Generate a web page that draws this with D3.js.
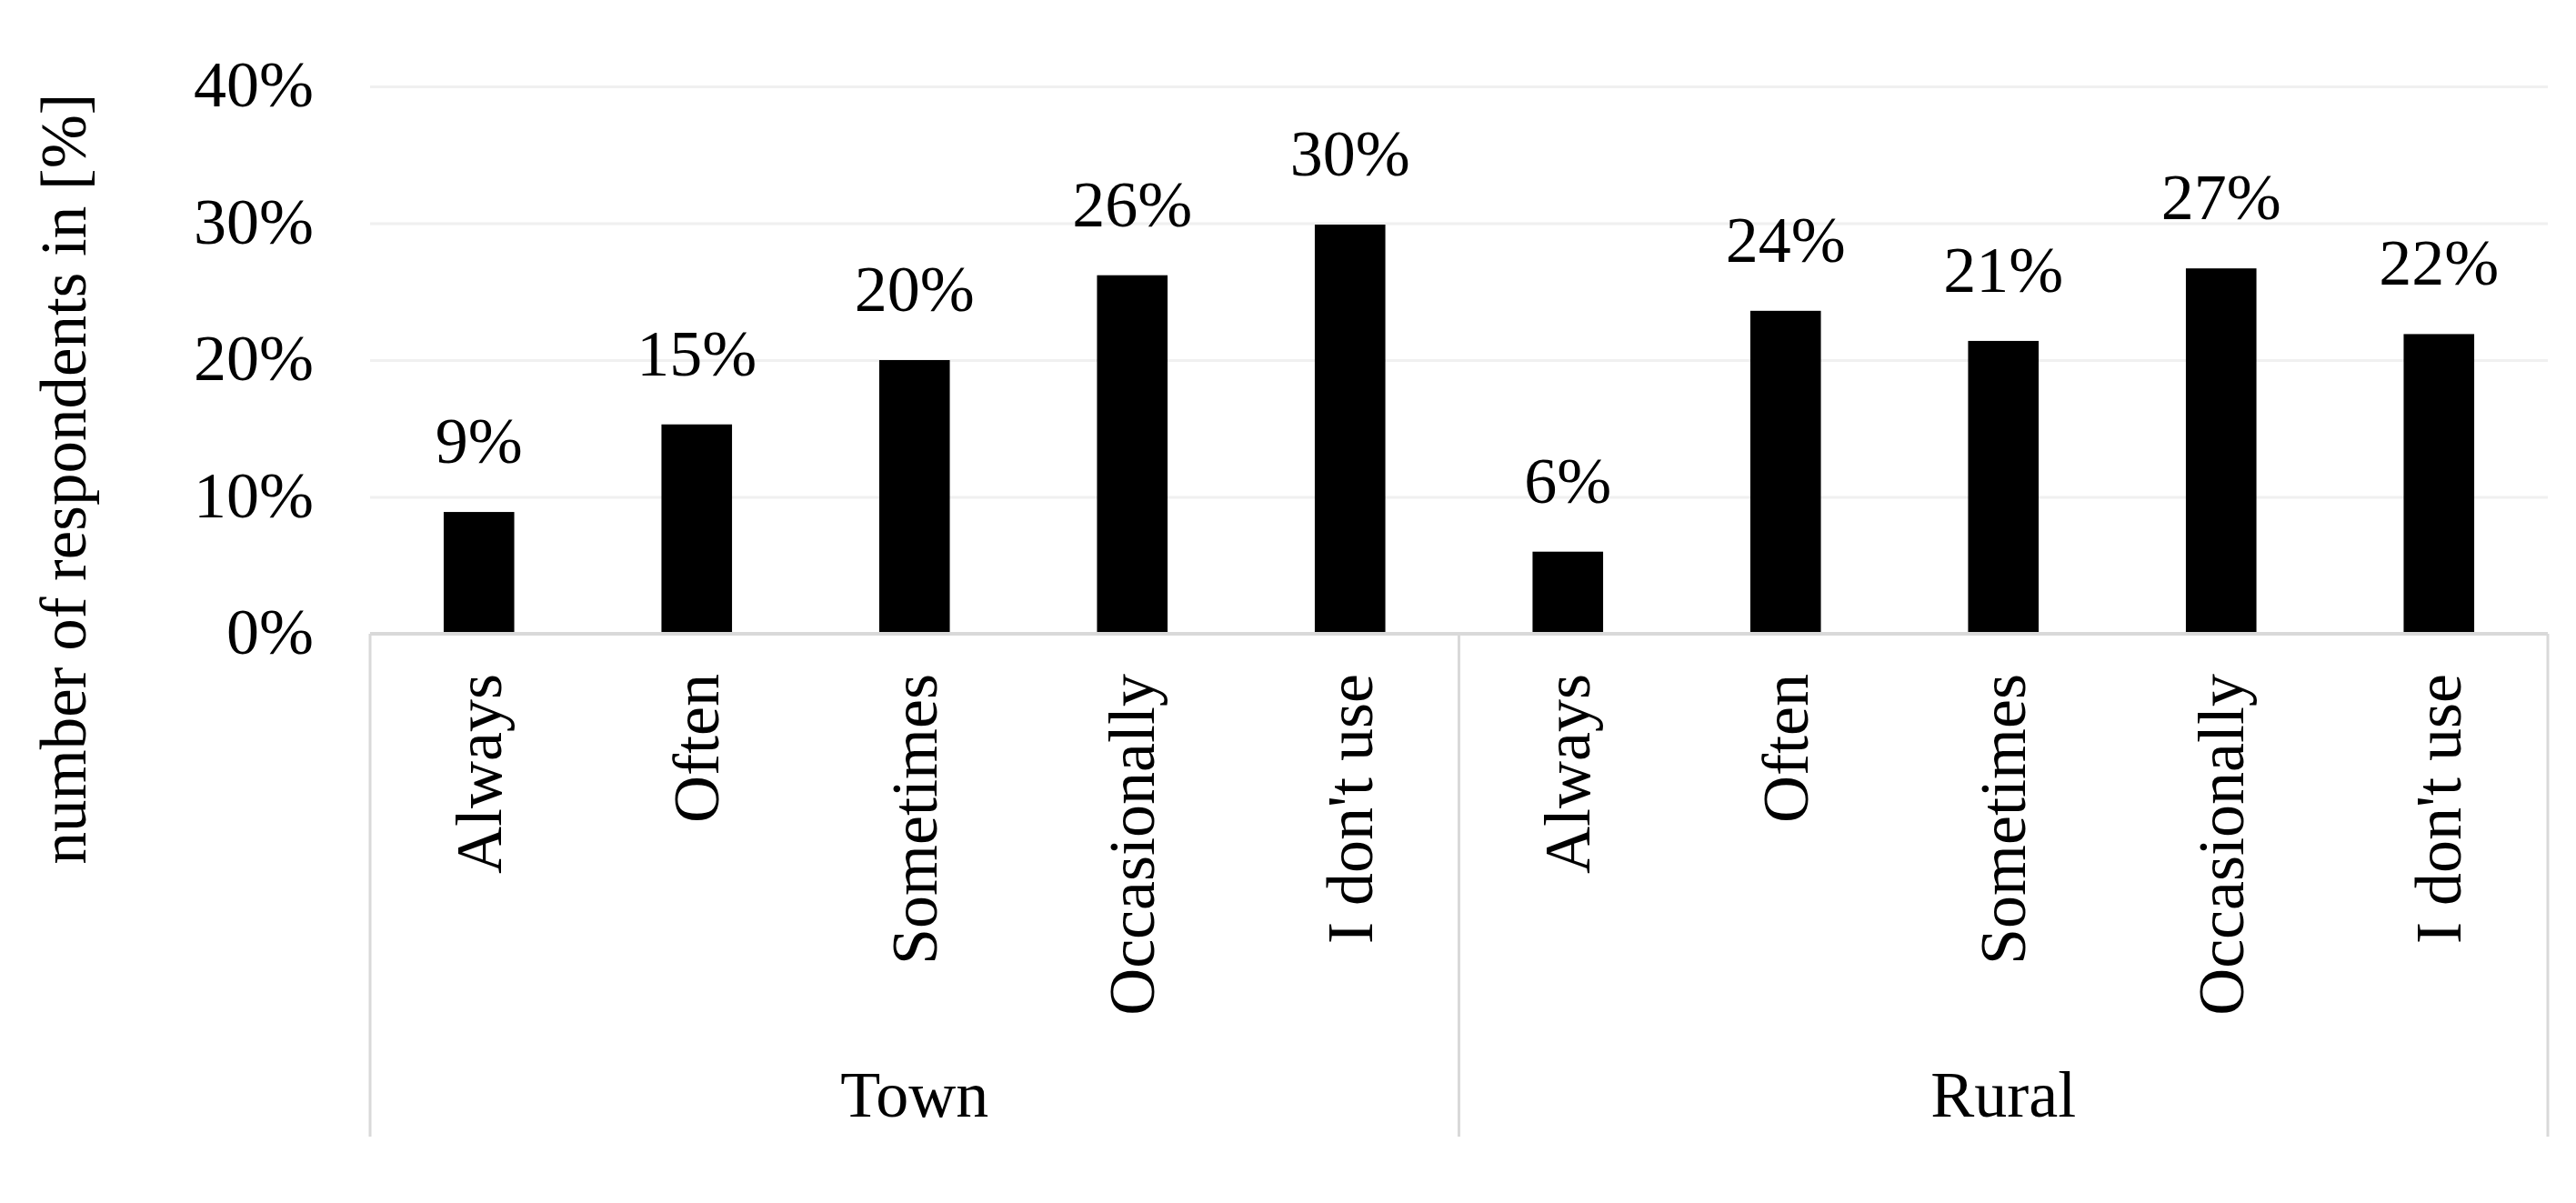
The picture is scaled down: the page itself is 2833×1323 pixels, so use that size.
<!DOCTYPE html>
<html>
<head>
<meta charset="utf-8">
<script src="https://cdn.jsdelivr.net/npm/d3@7"></script>
<style>
  body { margin: 0; background: #fff; }
  text { font-family: "Liberation Serif", "Times New Roman", serif; fill: #000; }
</style>
</head>
<body>
<div id="chart-area"></div>
<script>
// data
var groups = ["Town", "Rural"];
var answers = ["Always", "Often", "Sometimes", "Occasionally", "I don't use"];
var townValues = [0.089, 0.153, 0.200, 0.262, 0.299];
var ruralValues = [0.060, 0.236, 0.214, 0.267, 0.219];
var townLabels = ["9%", "15%", "20%", "26%", "30%"];
var ruralLabels = ["6%", "24%", "21%", "27%", "22%"];
var yTicks = [0, 0.1, 0.2, 0.3, 0.4];

var W = 2833, H = 1323;
var margin = { left: 407, right: 31, top: 95, bottom: 626 },
    width = W - margin.left - margin.right,
    height = 697 - margin.top;

var svg = d3.select("#chart-area")
    .append("svg")
    .attr("width", W)
    .attr("height", H);
svg.append("rect").attr("width", W).attr("height", H).attr("fill", "#fff");

var g = svg.append("g")
    .attr("transform", "translate(" + margin.left + "," + margin.top + ")");

// flat rows
var rows = [];
groups.forEach(function(grp, gi) {
    var vals = gi == 0 ? townValues : ruralValues;
    var labs = gi == 0 ? townLabels : ruralLabels;
    answers.forEach(function(a, i) {
        rows.push({ key: grp + "|" + a, group: grp, answer: a, value: vals[i], label: labs[i] });
    });
});

// Scales
var x = d3.scaleBand()
    .domain(rows.map(function(d){ return d.key; }))
    .range([0, width])
    .paddingInner(0.676)
    .paddingOuter(0.338);
var y = d3.scaleLinear().domain([0, 0.4]).range([height, 0]);

// Gridlines
var grid = g.append("g")
    .attr("class", "grid")
    .call(d3.axisLeft(y).tickValues(yTicks.slice(1)).tickSize(-width).tickFormat(""));
grid.select(".domain").remove();
grid.selectAll("line").attr("stroke", "#f0f0f0").attr("stroke-width", 3);

// Y-axis
var yAxis = g.append("g")
    .attr("class", "y axis")
    .call(d3.axisLeft(y).tickValues(yTicks).tickSize(0).tickPadding(62).tickFormat(d3.format(".0%")));
yAxis.select(".domain").remove();
yAxis.selectAll("text")
    .attr("font-size", "72px")
    .attr("font-family", "Liberation Serif")
    .attr("dy", "0.3em");

// Bars
g.selectAll(".bar")
    .data(rows)
    .enter().append("rect")
    .attr("class", "bar")
    .attr("x", function(d){ return x(d.key); })
    .attr("y", function(d){ return y(d.value); })
    .attr("width", x.bandwidth())
    .attr("height", function(d){ return height - y(d.value); })
    .attr("fill", "#000");

// Value labels
g.selectAll(".val")
    .data(rows)
    .enter().append("text")
    .attr("class", "val")
    .attr("x", function(d){ return x(d.key) + x.bandwidth() / 2; })
    .attr("y", function(d){ return y(d.value) - 54; })
    .attr("text-anchor", "middle")
    .attr("font-size", "72px")
    .text(function(d){ return d.label; });

// Category box
var boxBottom = 1250 - margin.top;
var step = x.step();
g.append("line")
    .attr("x1", 0).attr("x2", width)
    .attr("y1", height).attr("y2", height)
    .attr("stroke", "#d9d9d9").attr("stroke-width", 4);
var dividers = [0, answers.length * step, width];
g.selectAll(".divider")
    .data(dividers)
    .enter().append("line")
    .attr("class", "divider")
    .attr("x1", function(d){ return d; }).attr("x2", function(d){ return d; })
    .attr("y1", height).attr("y2", boxBottom)
    .attr("stroke", "#d9d9d9").attr("stroke-width", 3);

// Category labels (rotated)
g.selectAll(".cat")
    .data(rows)
    .enter().append("text")
    .attr("class", "cat")
    .attr("transform", function(d){
        return "translate(" + (x(d.key) + x.bandwidth() / 2) + "," + (height + 44) + ") rotate(-90)";
    })
    .attr("text-anchor", "end")
    .attr("dy", "0.33em")
    .attr("font-size", "72px")
    .text(function(d){ return d.answer; });

// Group labels
g.selectAll(".grp")
    .data(groups)
    .enter().append("text")
    .attr("class", "grp")
    .attr("x", function(d, i){ return (i + 0.5) * answers.length * step; })
    .attr("y", 1228 - margin.top)
    .attr("text-anchor", "middle")
    .attr("font-size", "72px")
    .text(function(d){ return d; });

// Y label
svg.append("text")
    .attr("transform", "translate(94," + ((105 + 948) / 2) + ") rotate(-90)")
    .attr("text-anchor", "middle")
    .attr("font-size", "71px")
    .text("number of respondents in [%]");
</script>
</body>
</html>
